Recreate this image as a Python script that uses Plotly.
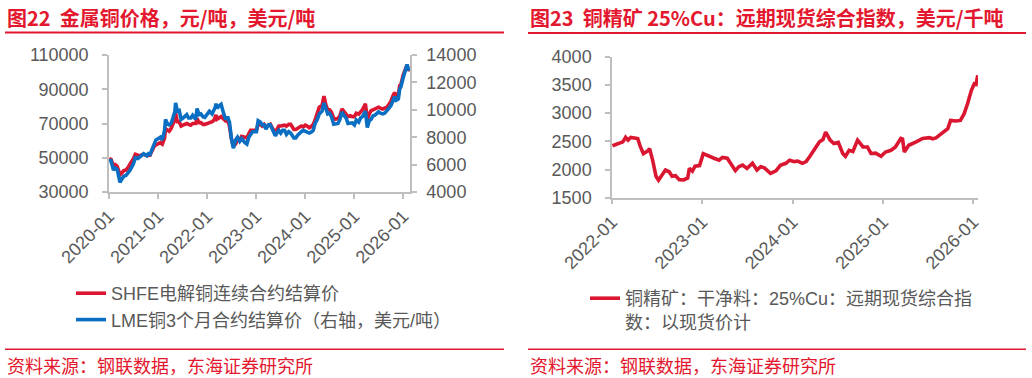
import plotly.graph_objects as go

# ---------------- data ----------------
cu_dates = [
    "2020-01-02", "2020-01-16", "2020-02-03", "2020-02-17", "2020-03-02", "2020-03-12", "2020-03-23",
    "2020-04-06", "2020-04-20", "2020-05-06", "2020-05-20", "2020-06-03", "2020-06-17", "2020-07-01",
    "2020-07-15", "2020-08-03", "2020-08-17", "2020-09-01", "2020-09-15", "2020-10-09", "2020-10-20",
    "2020-11-02", "2020-11-16", "2020-12-01", "2020-12-15", "2021-01-04", "2021-01-18", "2021-02-01",
    "2021-02-18", "2021-02-25", "2021-03-10", "2021-03-24", "2021-04-07", "2021-04-21", "2021-05-06",
    "2021-05-11", "2021-05-24", "2021-06-07", "2021-06-21", "2021-07-05", "2021-07-19", "2021-08-02",
    "2021-08-16", "2021-09-01", "2021-09-15", "2021-10-08", "2021-10-18", "2021-11-01", "2021-11-15",
    "2021-12-01", "2021-12-15", "2022-01-04", "2022-01-18", "2022-02-07", "2022-02-21", "2022-03-03",
    "2022-03-08", "2022-03-16", "2022-04-01", "2022-04-15", "2022-05-05", "2022-05-19", "2022-06-02",
    "2022-06-16", "2022-07-01", "2022-07-15", "2022-08-01", "2022-08-15", "2022-09-01", "2022-09-15",
    "2022-10-10", "2022-10-24", "2022-11-07", "2022-11-21", "2022-12-05", "2022-12-19", "2023-01-03",
    "2023-01-16", "2023-02-01", "2023-02-15", "2023-03-01", "2023-03-15", "2023-04-03", "2023-04-17",
    "2023-05-04", "2023-05-24", "2023-06-05", "2023-06-19", "2023-07-03", "2023-07-17", "2023-08-01",
    "2023-08-15", "2023-09-01", "2023-09-15", "2023-10-09", "2023-10-23", "2023-11-06", "2023-11-20",
    "2023-12-04", "2023-12-18", "2024-01-02", "2024-01-16", "2024-02-01", "2024-02-19", "2024-03-01",
    "2024-03-15", "2024-04-01", "2024-04-15", "2024-05-06", "2024-05-20", "2024-06-03", "2024-06-17",
    "2024-07-01", "2024-07-15", "2024-08-01", "2024-08-15", "2024-09-02", "2024-09-16", "2024-10-01",
    "2024-10-15", "2024-11-01", "2024-11-15", "2024-12-02", "2024-12-16", "2025-01-02", "2025-01-16",
    "2025-02-03", "2025-02-17", "2025-03-03", "2025-03-25", "2025-04-08", "2025-04-22", "2025-05-06",
    "2025-05-20", "2025-06-03", "2025-06-17", "2025-07-01", "2025-07-15", "2025-08-01", "2025-08-15",
    "2025-09-01", "2025-09-15", "2025-10-01", "2025-10-15", "2025-10-28", "2025-11-10", "2025-11-25",
    "2025-12-05", "2025-12-15", "2025-12-30", "2026-01-10", "2026-01-20", "2026-01-29", "2026-02-05",
    "2026-02-12",
]
shfe = [
    49500, 49000, 45500, 46000, 45000, 42500, 40000,
    41000, 42500, 42800, 44000, 46000, 47500, 49500,
    52000, 51500, 51000, 51800, 52000, 51200, 51500,
    51500, 54000, 56500, 57500, 58500, 58800, 58000,
    61500, 67000, 66000, 65500, 67000, 70000, 72500,
    76000, 71000, 71000, 68500, 69000, 69500, 70000,
    69500, 69000, 70000, 70000, 73000, 70500, 70500,
    69500, 69500, 70000, 70500, 71000, 72000, 73500,
    75000, 72500, 73500, 74000, 72500, 71500, 72000,
    68500, 61000, 56500, 58000, 60500, 60500, 62500,
    62000, 61500, 64000, 66000, 66000, 66000, 66000,
    69500, 69500, 68500, 69500, 68000, 69000, 69500,
    67000, 65000, 66500, 68500, 68500, 69000, 69000,
    68500, 69500, 69500, 66500, 66500, 67000, 68000,
    68500, 68000, 69000, 68500, 67500, 68500, 69500,
    72000, 75500, 79500, 80500, 86000, 81000, 78000,
    78000, 76500, 73000, 72500, 73000, 74500, 78500,
    77000, 76000, 74000, 74500, 74000, 74000, 76000,
    75500, 77000, 78000, 81500, 72000, 75500, 77500,
    78000, 78500, 78500, 79500, 79000, 78500, 79000,
    79500, 81000, 83000, 86000, 88000, 86000, 86500,
    92000, 93000, 98000, 101000, 102500, 104000, 101000,
    101500,
]
lme = [
    6250, 6280, 5600, 5750, 5650, 5300, 4700,
    4950, 5150, 5200, 5350, 5550, 5800, 6050,
    6500, 6450, 6550, 6700, 6800, 6650, 6800,
    6750, 7100, 7600, 7800, 7900, 8000, 7800,
    8500, 9300, 9000, 8900, 9000, 9400, 9900,
    10500, 9900, 9950, 9300, 9400, 9500, 9650,
    9400, 9400, 9600, 9300, 10100, 9650, 9700,
    9500, 9450, 9700, 9900, 9700, 9950, 10200,
    10450, 10100, 10300, 10400, 9700, 9300, 9500,
    9100, 7900, 7200, 7800, 8000, 7700, 7900,
    7600, 7500, 8000, 8200, 8400, 8400, 8400,
    9200, 9100, 8900, 8900, 8600, 8900, 8900,
    8500, 8100, 8300, 8500, 8300, 8500, 8500,
    8200, 8400, 8300, 7950, 7950, 8150, 8300,
    8400, 8500, 8450, 8350, 8300, 8400, 8500,
    9000, 9300, 9700, 9900, 10500, 10000, 9700,
    9750, 9500, 8950, 8950, 9000, 9300, 9850,
    9600, 9400, 9000, 9050, 9050, 8900, 9250,
    9100, 9400, 9500, 9900, 8700, 9200, 9300,
    9550, 9600, 9700, 9850, 9750, 9700, 9750,
    9900, 10100, 10300, 10650, 10950, 10700, 10800,
    11500, 11700, 12300, 12800, 13000, 13300, 12950,
    12850,
]

conc_dates = [
    "2022-01-03", "2022-01-17", "2022-02-01", "2022-02-14", "2022-02-25", "2022-03-07", "2022-03-18",
    "2022-04-01", "2022-04-15", "2022-04-26", "2022-05-08", "2022-05-26", "2022-06-02", "2022-06-14",
    "2022-06-28", "2022-07-08", "2022-07-22", "2022-08-05", "2022-08-20", "2022-09-01", "2022-09-15",
    "2022-09-30", "2022-10-18", "2022-11-03", "2022-11-10", "2022-11-22", "2022-12-03", "2022-12-21",
    "2023-01-05", "2023-01-19", "2023-02-05", "2023-02-20", "2023-03-10", "2023-03-24", "2023-04-12",
    "2023-04-26", "2023-05-15", "2023-05-29", "2023-06-13", "2023-07-01", "2023-07-23", "2023-08-10",
    "2023-08-25", "2023-09-09", "2023-10-04", "2023-10-26", "2023-11-13", "2023-12-05", "2023-12-20",
    "2024-01-08", "2024-01-22", "2024-02-10", "2024-02-25", "2024-03-10", "2024-03-28", "2024-04-19",
    "2024-05-03", "2024-05-14", "2024-06-01", "2024-06-16", "2024-07-04", "2024-07-22", "2024-08-02",
    "2024-08-17", "2024-09-01", "2024-09-20", "2024-10-12", "2024-10-30", "2024-11-13", "2024-12-02",
    "2024-12-24", "2025-01-11", "2025-02-02", "2025-02-20", "2025-03-14", "2025-03-21", "2025-03-28",
    "2025-04-15", "2025-05-15", "2025-06-10", "2025-07-08", "2025-07-20", "2025-08-03", "2025-08-29",
    "2025-09-20", "2025-10-01", "2025-10-23", "2025-11-10", "2025-11-25", "2025-12-09", "2025-12-24",
    "2026-01-05", "2026-01-12", "2026-01-19",
]
conc = [
    2420, 2440, 2470, 2490, 2570, 2520, 2570,
    2560, 2550, 2400, 2280, 2330, 2370, 2170,
    1880, 1810, 1900, 1990, 1960, 1880, 1890,
    1820, 1815, 1850, 2020, 1970, 2060, 2070,
    2280, 2250, 2210, 2195, 2165, 2215, 2200,
    2110, 1980, 2050, 2080, 2020, 2110, 1990,
    2050, 2030, 1930, 1975, 2075, 2110, 2165,
    2140, 2150, 2110, 2140, 2225, 2340, 2490,
    2530, 2665, 2520, 2460, 2480, 2285, 2235,
    2340, 2320, 2520, 2400, 2400, 2285, 2290,
    2235, 2310, 2340, 2400, 2550, 2540, 2310,
    2430, 2490, 2550, 2565, 2545, 2560, 2640,
    2725, 2870, 2860, 2870, 2990, 3170, 3400,
    3520, 3510, 3670,
]

name_shfe = "SHFE电解铜连续合约结算价"
name_lme = "LME铜3个月合约结算价（右轴，美元/吨）"
name_conc = "铜精矿：干净料：25%Cu：远期现货综合指<br>数：以现货价计"
title_left = "图22\u00a0\u00a0金属铜价格，元/吨，美元/吨"
title_right = "图23\u00a0\u00a0铜精矿 25%Cu：远期现货综合指数，美元/千吨"
source_text = "资料来源：钢联数据，东海证券研究所"

# ---------------- style ----------------
W, H = 1032, 378
RED = "#DA1630"
RED_TXT = "#E3172E"
BLUE = "#0A6FC2"
GRAY_TXT = "#595959"
AXIS = "#BFBFBF"
FONT = "Liberation Sans, Arial, Noto Sans CJK SC, sans-serif"
CJK = "Noto Sans CJK SC, Liberation Sans, sans-serif"


def px(x):
    return x / W


def py(y):
    return 1 - y / H


fig = go.Figure()
fig.add_trace(go.Scatter(x=cu_dates, y=shfe, name=name_shfe, mode="lines",
                         line=dict(color=RED, width=3.6), xaxis="x", yaxis="y",
                         legend="legend", legendgroup="a"))
fig.add_trace(go.Scatter(x=cu_dates, y=lme, name=name_lme, mode="lines",
                         line=dict(color=BLUE, width=3.6), xaxis="x", yaxis="y2",
                         legend="legend", legendgroup="b"))
fig.add_trace(go.Scatter(x=conc_dates, y=conc, name=name_conc, mode="lines",
                         line=dict(color=RED, width=3.6), xaxis="x2", yaxis="y3",
                         legend="legend2"))

axis_common = dict(showline=True, linecolor=AXIS, linewidth=1.5, ticks="outside",
                   ticklen=5, tickcolor=AXIS, tickwidth=1.5, showgrid=False,
                   zeroline=False, automargin=False,
                   tickfont=dict(family=FONT, size=18, color=GRAY_TXT))

fig.update_layout(
    width=W, height=H, autosize=False,
    margin=dict(l=0, r=0, t=0, b=0),
    paper_bgcolor="white", plot_bgcolor="white",
    showlegend=True,
    xaxis=dict(domain=[px(109), px(410)], anchor="y", type="date",
               range=["2020-01-01", "2026-02-20"], dtick="M12", tick0="2020-01-01",
               tickformat="%Y-%m", tickangle=-45, **axis_common),
    yaxis=dict(domain=[py(192), py(55)], anchor="x", range=[30000, 110000],
               tick0=30000, dtick=20000, tickformat="d", ticklabelstandoff=10,
               **axis_common),
    yaxis2=dict(overlaying="y", side="right", anchor="x", range=[4000, 14000],
                tick0=4000, dtick=2000, tickformat="d", ticklabelstandoff=6,
                **axis_common),
    xaxis2=dict(domain=[px(612), px(978)], anchor="y3", type="date",
                range=["2022-01-01", "2026-01-20"], dtick="M12", tick0="2022-01-01",
                tickformat="%Y-%m", tickangle=-45, **axis_common),
    yaxis3=dict(domain=[py(197.7), py(56.7)], anchor="x2", range=[1500, 4000],
                tick0=1500, dtick=500, tickformat="d", ticklabelstandoff=10,
                **axis_common),
    legend=dict(x=px(71), y=py(275), xanchor="left", yanchor="top",
                bgcolor="rgba(0,0,0,0)", borderwidth=0, tracegroupgap=9,
                traceorder="normal",
                font=dict(family=FONT, size=18, color=GRAY_TXT)),
    legend2=dict(x=px(585), y=py(280), xanchor="left", yanchor="top",
                 bgcolor="rgba(0,0,0,0)", borderwidth=0, valign="top",
                 font=dict(family=FONT, size=18, color=GRAY_TXT)),
)

annotations = [
    dict(text="<b>" + title_left + "</b>", x=px(5), y=py(17), xref="paper", yref="paper",
         xanchor="left", yanchor="middle", showarrow=False,
         font=dict(family=CJK, size=20, color=RED_TXT)),
    dict(text="<b>" + title_right + "</b>", x=px(528), y=py(17), xref="paper", yref="paper",
         xanchor="left", yanchor="middle", showarrow=False,
         font=dict(family=CJK, size=20, color=RED_TXT)),
    dict(text=source_text, x=px(5), y=py(365), xref="paper", yref="paper",
         xanchor="left", yanchor="middle", showarrow=False,
         font=dict(family=CJK, size=18, color=RED_TXT)),
    dict(text=source_text, x=px(528), y=py(365), xref="paper", yref="paper",
         xanchor="left", yanchor="middle", showarrow=False,
         font=dict(family=CJK, size=18, color=RED_TXT)),
]
fig.update_layout(annotations=annotations)

shapes = []
for x0, x1, y, w in [(5, 504, 32.5, 2), (528, 1026, 33, 2),
                     (5, 504, 349.3, 1.5), (528, 1026, 349.3, 1.5)]:
    shapes.append(dict(type="line", xref="paper", yref="paper",
                       x0=px(x0), x1=px(x1), y0=py(y), y1=py(y),
                       line=dict(color=RED_TXT, width=w)))
fig.update_layout(shapes=shapes)

fig.write_html("out.html")
